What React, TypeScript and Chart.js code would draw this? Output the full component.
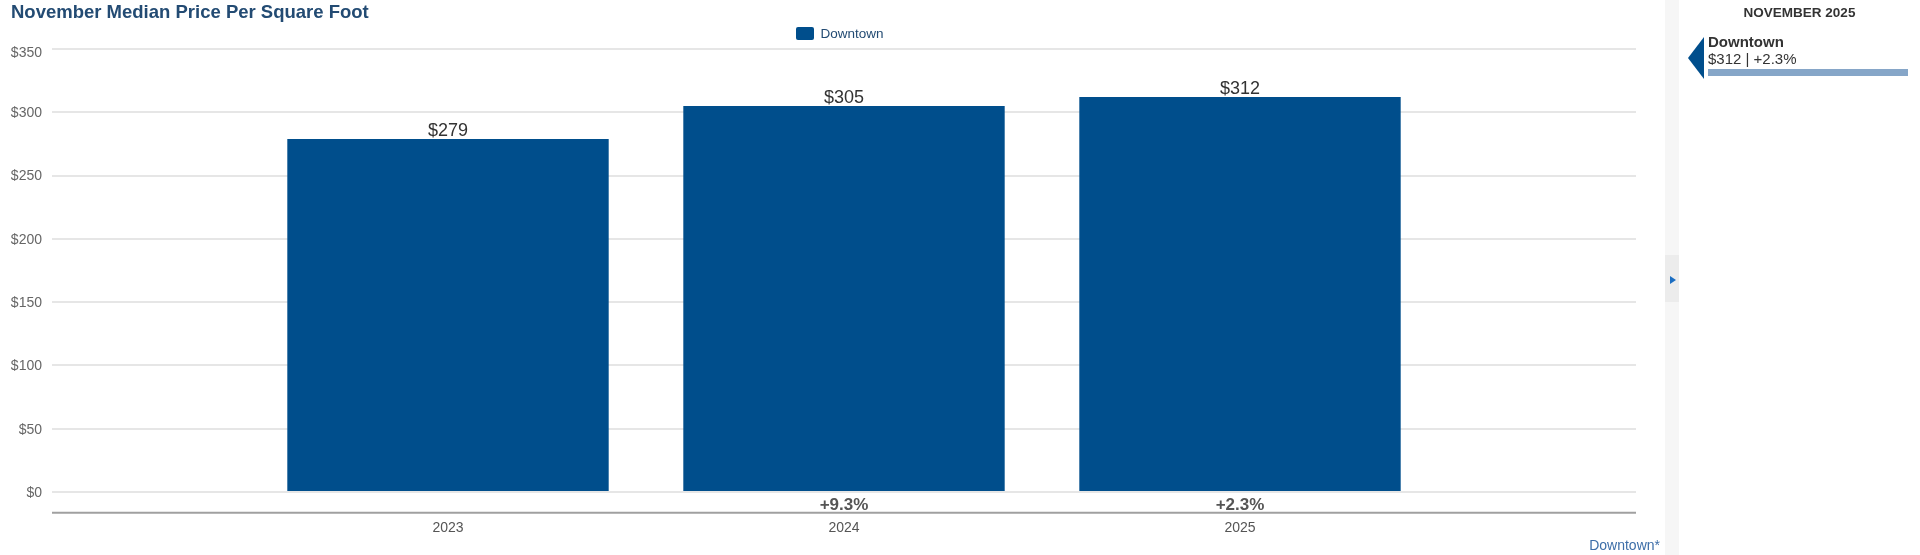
import React, { useEffect, useRef } from "react";
import { Chart, registerables } from "chart.js";

Chart.register(...registerables);

const TITLE = "November Median Price Per Square Foot";
const SERIES_NAME = "Downtown";
const categories = ["2023", "2024", "2025"];
const values = [279, 305, 312];
const changeLabels = ["", "+9.3%", "+2.3%"];
const yTickValues = [0, 50, 100, 150, 200, 250, 300, 350];
const Y_MIN = -17.1;
const Y_MAX = 350;
const SIDEBAR_PERIOD = "NOVEMBER 2025";
const SIDEBAR_VALUE = "$312 | +2.3%";

const FONT = '"Liberation Sans", Arial, Helvetica, sans-serif';
const BAR_COLOR = "#004e8c";

const labels = ["", ...categories, ""];
const dataPadded: (number | null)[] = [null, ...values, null];
const changePadded = ["", ...changeLabels, ""];

const overlayPlugin = {
  id: "overlay",
  afterDatasetsDraw(chart: any) {
    const ctx = chart.ctx;
    const area = chart.chartArea;
    const meta = chart.getDatasetMeta(0);
    const xScale = chart.scales.x;
    const yScale = chart.scales.y;
    ctx.save();
    // y tick labels (top one nudged down like the reference)
    ctx.font = `14px ${FONT}`;
    ctx.fillStyle = "#666666";
    ctx.textAlign = "right";
    ctx.textBaseline = "middle";
    yTickValues.forEach((v) => {
      const y = yScale.getPixelForValue(v) + (v === Y_MAX ? 4 : 1);
      ctx.fillText(`$${v}`, area.left - 10, y);
    });
    // value labels
    meta.data.forEach((bar: any, i: number) => {
      const v = dataPadded[i];
      if (v == null) return;
      ctx.font = `18px ${FONT}`;
      ctx.fillStyle = "#333333";
      ctx.textAlign = "center";
      ctx.textBaseline = "alphabetic";
      ctx.fillText(`$${v}`, bar.x, bar.y - 3);
    });
    // bottom axis line
    ctx.strokeStyle = "#a0a0a0";
    ctx.lineWidth = 2;
    ctx.beginPath();
    ctx.moveTo(area.left, area.bottom - 1);
    ctx.lineTo(area.right, area.bottom - 1);
    ctx.stroke();
    // change labels and year labels
    labels.forEach((lab: string, i: number) => {
      if (!lab) return;
      const x = xScale.getPixelForValue(i);
      const ch = changePadded[i];
      if (ch) {
        ctx.font = `bold 17px ${FONT}`;
        ctx.fillStyle = "#555555";
        ctx.textAlign = "center";
        ctx.textBaseline = "middle";
        ctx.fillText(ch, x, 505.5);
      }
      ctx.font = `14px ${FONT}`;
      ctx.fillStyle = "#555555";
      ctx.textAlign = "center";
      ctx.textBaseline = "middle";
      ctx.fillText(lab, x, area.bottom + 14.5);
    });
    // series footnote
    ctx.font = `14px ${FONT}`;
    ctx.fillStyle = "#3d6ea8";
    ctx.textAlign = "right";
    ctx.textBaseline = "middle";
    ctx.fillText(`${SERIES_NAME}*`, 1660, 546);
    ctx.restore();
  },
};

export default function App() {
  const canvasRef = useRef<HTMLCanvasElement | null>(null);

  useEffect(() => {
    const canvas = canvasRef.current;
    if (!canvas) return;
    const chart = new Chart(canvas, {
      type: "bar",
      data: {
        labels,
        datasets: [
          {
            label: SERIES_NAME,
            data: dataPadded,
            backgroundColor: BAR_COLOR,
            borderWidth: 0,
            barPercentage: 0.8116,
            categoryPercentage: 1,
          },
        ],
      },
      options: {
        responsive: false,
        animation: false,
        devicePixelRatio: 1,
        layout: { padding: { left: 0, right: 284, top: 49, bottom: 41.3 } },
        plugins: {
          legend: { display: false },
          tooltip: { enabled: false },
          title: { display: false },
        },
        scales: {
          x: {
            type: "category",
            display: false,
            offset: false,
          },
          y: {
            min: Y_MIN,
            max: Y_MAX,
            afterBuildTicks: (s: any) => {
              s.ticks = yTickValues.map((v) => ({ value: v }));
            },
            afterFit: (s: any) => {
              s.width = 52;
            },
            border: { display: false },
            grid: {
              color: "#e6e6e6",
              lineWidth: 2,
              drawTicks: false,
            },
            ticks: { display: false },
          },
        },
      },
      plugins: [overlayPlugin],
    });
    return () => chart.destroy();
  }, []);

  return (
    <div
      style={{
        position: "absolute",
        left: 0,
        top: 0,
        width: 1920,
        height: 555,
        background: "#ffffff",
        overflow: "hidden",
        fontFamily: FONT,
      }}
    >
      <canvas
        ref={canvasRef}
        width={1920}
        height={555}
        style={{ position: "absolute", left: 0, top: 0, width: 1920, height: 555 }}
      />
      <div
        style={{
          position: "absolute",
          left: 11,
          top: 1,
          fontSize: 18.5,
          fontWeight: "bold",
          color: "#234b73",
          whiteSpace: "nowrap",
          lineHeight: "22px",
        }}
      >
        {TITLE}
      </div>
      <div
        style={{
          position: "absolute",
          left: 796,
          top: 26,
          height: 15,
          display: "flex",
          alignItems: "center",
          whiteSpace: "nowrap",
        }}
      >
        <div
          style={{
            width: 17.5,
            height: 13,
            background: BAR_COLOR,
            borderRadius: 2,
            marginRight: 7,
          }}
        />
        <span style={{ fontSize: 13.5, color: "#234b73" }}>{SERIES_NAME}</span>
      </div>
      {/* sidebar strip */}
      <div
        style={{
          position: "absolute",
          left: 1665,
          top: 0,
          width: 14,
          height: 555,
          background: "#f6f6f6",
        }}
      />
      <div
        style={{
          position: "absolute",
          left: 1665,
          top: 255,
          width: 14,
          height: 47,
          background: "#ececec",
        }}
      />
      <div
        style={{
          position: "absolute",
          left: 1669.5,
          top: 276,
          width: 0,
          height: 0,
          borderTop: "4.5px solid transparent",
          borderBottom: "4.5px solid transparent",
          borderLeft: "6px solid #1b6ec2",
        }}
      />
      <div
        style={{
          position: "absolute",
          left: 1679,
          top: 3,
          width: 241,
          textAlign: "center",
          fontSize: 13.5,
          fontWeight: "bold",
          color: "#333333",
          lineHeight: "20px",
        }}
      >
        {SIDEBAR_PERIOD}
      </div>
      <div
        style={{
          position: "absolute",
          left: 1688,
          top: 37,
          width: 0,
          height: 0,
          borderTop: "21.5px solid transparent",
          borderBottom: "21.5px solid transparent",
          borderRight: `16px solid ${BAR_COLOR}`,
        }}
      />
      <div
        style={{
          position: "absolute",
          left: 1708,
          top: 33,
          fontSize: 15,
          fontWeight: "bold",
          color: "#333333",
          lineHeight: "18px",
          whiteSpace: "nowrap",
        }}
      >
        {SERIES_NAME}
      </div>
      <div
        style={{
          position: "absolute",
          left: 1708,
          top: 50,
          fontSize: 15,
          color: "#333333",
          lineHeight: "18px",
          whiteSpace: "nowrap",
        }}
      >
        {SIDEBAR_VALUE}
      </div>
      <div
        style={{
          position: "absolute",
          left: 1708,
          top: 69,
          width: 200,
          height: 7,
          background: "#86a6c8",
        }}
      />
    </div>
  );
}
